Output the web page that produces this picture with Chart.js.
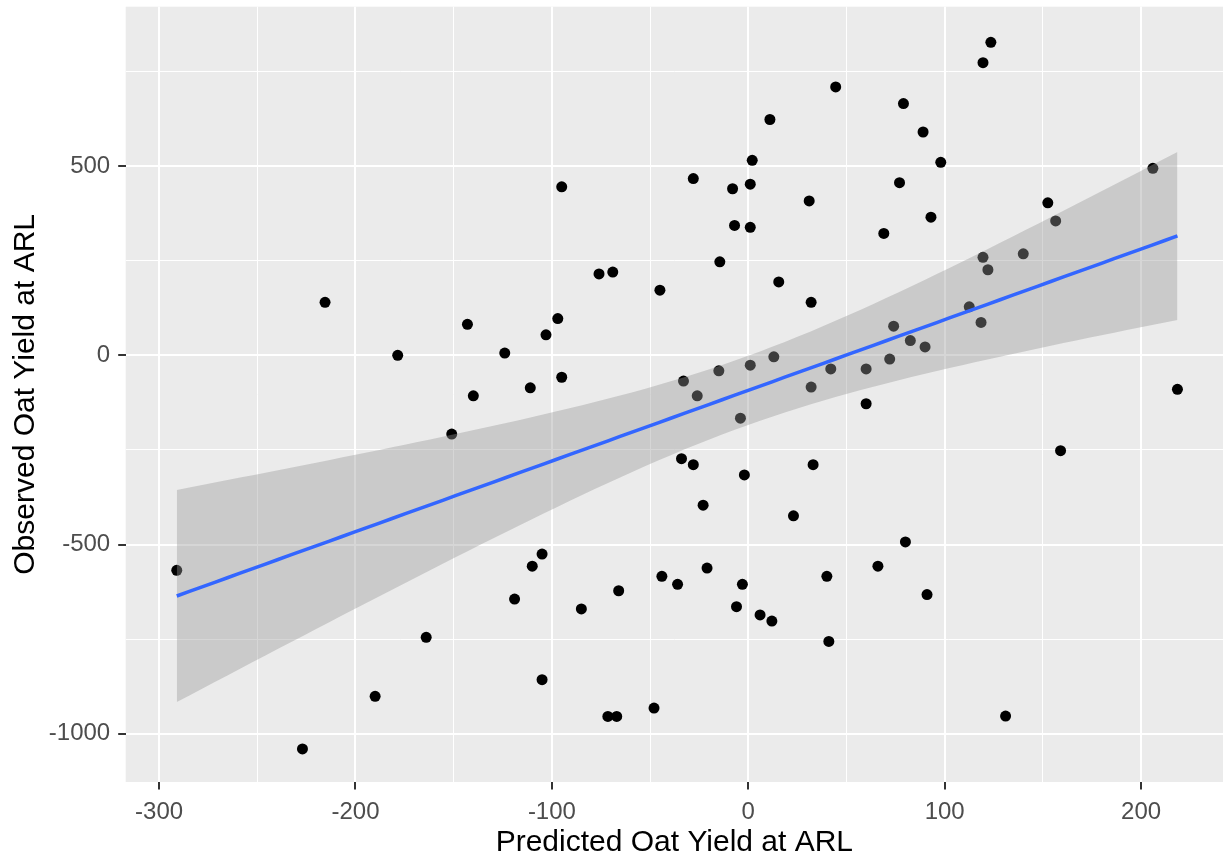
<!DOCTYPE html>
<html>
<head>
<meta charset="utf-8">
<title>Predicted vs Observed Oat Yield at ARL</title>
<script src="https://cdn.jsdelivr.net/npm/chart.js@4.4.0/dist/chart.umd.min.js"></script>
<style>
  html, body { margin: 0; padding: 0; background: #ffffff; overflow: hidden; }
  canvas { display: block; }
</style>
</head>
<body>
<canvas id="chart" width="1223" height="861"></canvas>
<script>
// Predicted oat yield (x) and observed oat yield (y) at ARL, one entry per plot
const predicted = [
  -291, -227, -215.5, -190, -178.5, -164, -151, -143, -140, -124,
  -119, -111, -110, -105, -105, -103, -97, -95, -95, -85,
  -76, -71.5, -69, -67, -66, -48, -45, -44, -36, -34,
  -33, -28, -28, -26, -23, -21, -15, -14.5, -8, -7,
  -6, -4, -3, -2, 1, 1, 1, 2, 6, 11,
  12, 13, 15.5, 23, 31, 32, 32, 33, 40, 41,
  42, 44.5, 60, 60, 66, 69, 72, 74, 77, 79,
  80, 82.5, 89, 90, 91, 93, 98, 112.5, 118.5, 119.5,
  119.5, 122, 123.5, 131, 140, 152.5, 156.5, 159, 206, 218.5
];
const observed = [
  -568, -1040, 140, -901, 0, -745, -208, 82, -107, 6,
  -644, -86, -557, -525, -857, 54, 97, 445, -58, -670,
  215, -954, 220, -954, -622, -932, 172, -584, -605, -273,
  -68, 467, -289, -107, -396, -562, -41, 247, 440, 343,
  -664, -166, -605, -316, 452, 338, -26, 515, -686, 623,
  -702, -4, 194, -424, 408, 140, -84, -289, -584, -756,
  -36, 709, -36, -128, -557, 322, -10, 77, 456, 665,
  -493, 39, 590, 22, -632, 365, 510, 128, 87, 259,
  773, 226, 827, -953, 268, 403, 355, -252, 494, -90
];

// Axis ticks: labelled major ticks and unlabelled minor grid positions
const xMajorTicks = [-300, -200, -100, 0, 100, 200];
const xMinorTicks = [-250, -150, -50, 50, 150];
const yMajorTicks = [-1000, -500, 0, 500];
const yMinorTicks = [-750, -250, 250, 750];

const xTitle = 'Predicted Oat Yield at ARL';
const yTitle = 'Observed Oat Yield at ARL';

// Visible data window
const X_MIN = -317, X_MAX = 241.7;
const Y_MIN = -1127.3, Y_MAX = 921;

// Ordinary least-squares fit with a 95% confidence band, evaluated on 80 points
const T_CRIT = 1.987; // t quantile, 0.975, 88 df
function linearFit(xs, ys) {
  const n = xs.length;
  const mx = xs.reduce((a, b) => a + b, 0) / n;
  const my = ys.reduce((a, b) => a + b, 0) / n;
  let sxx = 0, sxy = 0;
  for (let i = 0; i < n; i++) {
    sxx += (xs[i] - mx) * (xs[i] - mx);
    sxy += (xs[i] - mx) * (ys[i] - my);
  }
  const slope = sxy / sxx;
  const intercept = my - slope * mx;
  let sse = 0;
  for (let i = 0; i < n; i++) {
    const r = ys[i] - (intercept + slope * xs[i]);
    sse += r * r;
  }
  const sigma = Math.sqrt(sse / (n - 2));
  return { n, mx, sxx, slope, intercept, sigma };
}
const fit = linearFit(predicted, observed);
const xLo = Math.min(...predicted), xHi = Math.max(...predicted);
const fitLine = [], bandUpper = [], bandLower = [];
for (let i = 0; i < 80; i++) {
  const x = xLo + (xHi - xLo) * i / 79;
  const yhat = fit.intercept + fit.slope * x;
  const se = fit.sigma * Math.sqrt(1 / fit.n + (x - fit.mx) * (x - fit.mx) / fit.sxx);
  fitLine.push({ x, y: yhat });
  bandUpper.push({ x, y: yhat + T_CRIT * se });
  bandLower.push({ x, y: yhat - T_CRIT * se });
}
const points = predicted.map((x, i) => ({ x, y: observed[i] }));

const FONT = "'Liberation Sans', Arial, Helvetica, sans-serif";

// Grey panel behind the grid
const panelBackground = {
  id: 'panelBackground',
  beforeDraw(chart) {
    const { ctx, chartArea: a } = chart;
    ctx.save();
    ctx.fillStyle = '#EBEBEB';
    ctx.fillRect(a.left, a.top, a.right - a.left, a.bottom - a.top);
    ctx.restore();
  }
};

const isXMajor = v => xMajorTicks.includes(v);
const isYMajor = v => yMajorTicks.includes(v);

new Chart(document.getElementById('chart'), {
  type: 'scatter',
  data: {
    datasets: [
      {
        type: 'line', label: 'fit', data: fitLine, order: 0,
        borderColor: '#3366FF', borderWidth: 3.5, pointRadius: 0, fill: false, tension: 0
      },
      {
        type: 'line', label: 'upper', data: bandUpper, order: 1,
        borderColor: 'rgba(0,0,0,0)', borderWidth: 1, pointRadius: 0,
        backgroundColor: 'rgba(153,153,153,0.4)', fill: '+1', tension: 0
      },
      {
        type: 'line', label: 'lower', data: bandLower, order: 2,
        borderColor: 'rgba(0,0,0,0)', borderWidth: 1, pointRadius: 0, fill: false, tension: 0
      },
      {
        type: 'scatter', label: 'plots', data: points, order: 3,
        backgroundColor: '#000000', borderWidth: 0, pointRadius: 5.5, pointHoverRadius: 5.5
      }
    ]
  },
  options: {
    responsive: false,
    devicePixelRatio: 1,
    animation: false,
    events: [],
    layout: { autoPadding: false, padding: { left: 0, right: 0, top: 6.7, bottom: 0 } },
    plugins: { legend: { display: false }, tooltip: { enabled: false } },
    scales: {
      x: {
        type: 'linear', position: 'bottom', min: X_MIN, max: X_MAX,
        afterBuildTicks: s => { s.ticks = [...xMajorTicks, ...xMinorTicks].sort((a, b) => a - b).map(v => ({ value: v })); },
        afterFit: s => { s.height = 79; s.paddingLeft = 0; s.paddingRight = 0; },
        border: { display: false },
        grid: {
          color: '#FFFFFF',
          lineWidth: c => (isXMajor(c.tick.value) ? 2 : 1),
          drawTicks: true, tickLength: 7.5, tickWidth: 2,
          tickColor: c => (isXMajor(c.tick.value) ? '#333333' : 'rgba(0,0,0,0)')
        },
        ticks: {
          autoSkip: false, maxRotation: 0, padding: 8,
          color: '#4D4D4D', font: { family: FONT, size: 24 },
          callback: v => (isXMajor(v) ? String(v) : '')
        },
        title: {
          display: true, text: xTitle, color: '#000000',
          font: { family: FONT, size: 30 }, padding: { top: 0, bottom: 0 }
        }
      },
      y: {
        type: 'linear', position: 'left', min: Y_MIN, max: Y_MAX,
        afterBuildTicks: s => { s.ticks = [...yMajorTicks, ...yMinorTicks].sort((a, b) => a - b).map(v => ({ value: v })); },
        afterFit: s => { s.width = 125.7; s.paddingTop = 0; s.paddingBottom = 0; },
        border: { display: false },
        grid: {
          color: '#FFFFFF',
          lineWidth: c => (isYMajor(c.tick.value) ? 2 : 1),
          drawTicks: true, tickLength: 7.5, tickWidth: 2,
          tickColor: c => (isYMajor(c.tick.value) ? '#333333' : 'rgba(0,0,0,0)')
        },
        ticks: {
          autoSkip: false, padding: 8,
          color: '#4D4D4D', font: { family: FONT, size: 24 },
          callback: v => (isYMajor(v) ? String(v) : '')
        },
        title: {
          display: true, text: yTitle, color: '#000000',
          font: { family: FONT, size: 30 }, padding: { top: 8, bottom: 0 }
        }
      }
    }
  },
  plugins: [panelBackground]
});
</script>
</body>
</html>
